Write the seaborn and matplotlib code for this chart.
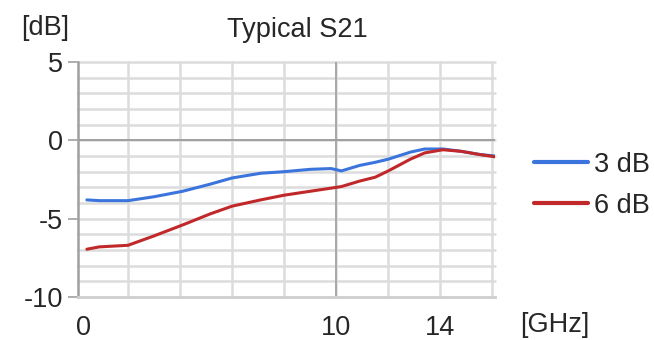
import numpy as np
import pandas as pd
import matplotlib
matplotlib.use("Agg")
import matplotlib.pyplot as plt
import seaborn as sns

# frequency [GHz] and S21 [dB]
freq = [0.42, 0.9, 2.0, 3.0, 4.1, 5.15, 6.0, 7.1, 8.0, 9.0, 9.8, 10.2, 10.9,
        11.5, 12.0, 12.85, 13.4, 14.1, 14.8, 15.5, 16.1]
s21_3db = [-3.8, -3.85, -3.85, -3.6, -3.25, -2.8, -2.4, -2.1, -2.0, -1.85, -1.8,
           -1.95, -1.6, -1.4, -1.2, -0.75, -0.55, -0.55, -0.7, -0.9, -1.0]
s21_6db = [-6.95, -6.8, -6.7, -6.1, -5.4, -4.7, -4.2, -3.8, -3.5, -3.25, -3.05,
           -2.95, -2.6, -2.35, -1.95, -1.2, -0.8, -0.6, -0.7, -0.9, -1.05]
series = ["3 dB", "6 dB"]
colors = ["#3b74dc", "#c0282a"]

df = pd.concat([
    pd.DataFrame({"GHz": freq, "dB": s21_3db, "series": series[0]}),
    pd.DataFrame({"GHz": freq, "dB": s21_6db, "series": series[1]}),
])

sns.set_style("white")
plt.rcParams["font.family"] = ["Liberation Sans", "DejaVu Sans"]
fs = 19.5

fig = plt.figure(figsize=(6.54, 3.4), dpi=100)
ax = fig.add_axes([0.1193, 0.1265, 0.6376, 0.691])

sns.lineplot(data=df, x="GHz", y="dB", hue="series", palette=colors,
             linewidth=2.2, ax=ax)

ax.set_xlim(0.08, 16.1)
ax.set_ylim(-10, 5)

# light grid every 2 GHz / 1 dB, darker lines at 10 GHz and 0 dB
ax.xaxis.remove_overlapping_locs = False
ax.yaxis.remove_overlapping_locs = False
ax.set_xticks(np.arange(2, 17, 2), minor=True)
ax.set_yticks(np.arange(-10, 6, 1), minor=True)
ax.grid(False)
ax.grid(which="minor", color="#dcdcdc", linewidth=1.8, clip_on=False)
ax.axvline(10, color="#a8a8a8", linewidth=1.4, zorder=1)
ax.axhline(0, color="#a0a0a0", linewidth=1.4, zorder=1)
ax.set_axisbelow(True)

ax.set_yticks([5, 0, -5, -10])
ax.set_yticklabels(["5", "0", "-5", "-10"])
ax.set_xticks([0.3, 10, 14])
ax.set_xticklabels(["0", "10", "14"])
ax.tick_params(axis="y", which="major", length=7, width=1.2, color="#a0a0a0",
               labelsize=fs, pad=4, left=True)
ax.tick_params(axis="x", which="both", length=0, labelsize=fs, pad=13)
ax.tick_params(axis="y", which="minor", length=0)

for s in ["top", "right"]:
    ax.spines[s].set_visible(False)
ax.spines["left"].set_color("#a0a0a0")
ax.spines["left"].set_linewidth(1.8)
ax.spines["bottom"].set_color("#d0d0d0")
ax.spines["bottom"].set_linewidth(2)

ax.set_xlabel("")
ax.set_ylabel("")
fig.text(297 / 654, 1 - 30 / 340, "Typical S21", ha="center", va="center", fontsize=fs)
fig.text(45 / 654, 1 - 28 / 340, "[dB]", ha="center", va="center", fontsize=fs)
fig.text(555 / 654, 1 - 325 / 340, "[GHz]", ha="center", va="center", fontsize=fs)

ax.legend(loc="center left", bbox_to_anchor=(1.06, 0.475), frameon=False,
          fontsize=fs, handlelength=2.0, handletextpad=0.22, labelspacing=0.55,
          borderpad=0)
for line in ax.get_legend().get_lines():
    line.set_linewidth(3)

fig.savefig("out.png", dpi=100)
